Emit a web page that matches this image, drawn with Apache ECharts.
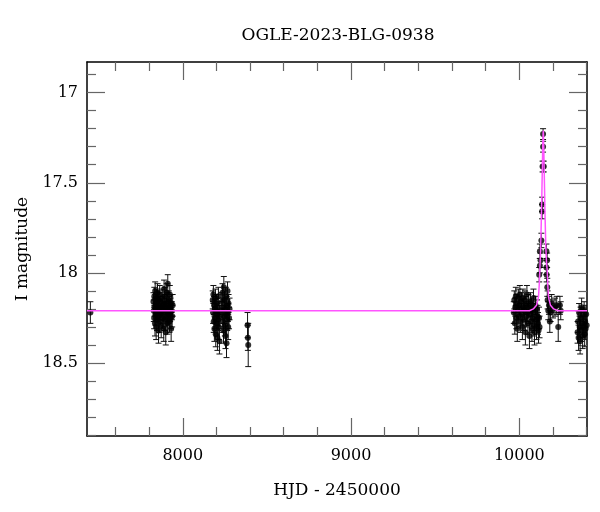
<!DOCTYPE html>
<html>
<head>
<meta charset="utf-8">
<script src="https://cdn.jsdelivr.net/npm/echarts@6/dist/echarts.min.js"></script>
<style>html,body{margin:0;padding:0;background:#fff}#c{width:600px;height:512px}</style>
</head>
<body>
<div id="c"></div>
<script>
// ---- data: [HJD-2450000, I mag, error] ----
const season2016 = [[7451,18.22,0.06]];
const season2017 = [
[7826,18.16,0.05],[7828,18.21,0.06],[7830,18.25,0.06],[7831,18.13,0.05],[7833,18.19,0.05],[7835,18.28,0.07],
[7836,18.10,0.05],[7838,18.23,0.06],[7840,18.17,0.05],[7842,18.30,0.07],[7843,18.20,0.05],[7845,18.14,0.05],
[7847,18.26,0.06],[7849,18.22,0.05],[7850,18.11,0.05],[7852,18.18,0.05],[7854,18.24,0.06],[7856,18.32,0.07],
[7857,18.15,0.05],[7859,18.21,0.05],[7861,18.27,0.06],[7863,18.12,0.05],[7865,18.19,0.05],[7867,18.23,0.06],
[7870,18.16,0.05],[7872,18.29,0.07],[7874,18.20,0.05],[7878,18.14,0.05],[7880,18.25,0.06],[7883,18.18,0.05],
[7885,18.22,0.06],[7887,18.31,0.07],[7889,18.09,0.05],[7891,18.17,0.05],[7893,18.26,0.06],[7895,18.13,0.05],
[7897,18.21,0.05],[7899,18.33,0.07],[7901,18.19,0.05],[7903,18.24,0.06],[7905,18.11,0.05],[7907,18.16,0.05],
[7909,18.28,0.06],[7911,18.06,0.05],[7913,18.20,0.05],[7915,18.23,0.06],[7917,18.15,0.05],[7919,18.18,0.05],
[7921,18.27,0.06],[7923,18.12,0.05],[7925,18.22,0.05],[7927,18.19,0.05],[7929,18.25,0.06],[7931,18.31,0.07],
[7933,18.17,0.05],[7935,18.21,0.05],[7937,18.24,0.06],[7940,18.18,0.06]
];
const season2018 = [
[8178,18.15,0.05],[8180,18.22,0.06],[8182,18.12,0.05],[8184,18.27,0.06],[8186,18.18,0.05],[8188,18.31,0.07],
[8190,18.20,0.05],[8192,18.25,0.06],[8194,18.14,0.05],[8196,18.34,0.07],[8198,18.21,0.05],[8200,18.17,0.05],
[8202,18.28,0.06],[8204,18.23,0.06],[8206,18.36,0.07],[8208,18.19,0.05],[8210,18.26,0.06],[8212,18.13,0.05],
[8214,18.30,0.07],[8216,18.22,0.06],[8218,18.38,0.07],[8220,18.24,0.06],
[8232,18.16,0.05],[8234,18.21,0.05],[8236,18.11,0.05],[8238,18.27,0.06],[8240,18.19,0.05],[8242,18.32,0.07],
[8244,18.08,0.06],[8246,18.24,0.06],[8248,18.15,0.05],[8250,18.29,0.06],[8252,18.20,0.05],[8254,18.35,0.07],
[8256,18.13,0.05],[8258,18.23,0.05],[8260,18.39,0.08],[8262,18.18,0.05],[8264,18.26,0.06],[8266,18.10,0.05],
[8268,18.22,0.05],[8270,18.30,0.07],[8272,18.17,0.05],[8275,18.25,0.06],[8278,18.20,0.06]
];
const season2018b = [[8385,18.29,0.07],[8387,18.36,0.07],[8389,18.40,0.12]];
const season2023 = [
[9967,18.22,0.06],[9970,18.15,0.05],[9973,18.28,0.06],[9976,18.19,0.05],[9979,18.13,0.05],[9982,18.25,0.06],
[9985,18.17,0.05],[9988,18.31,0.07],[9991,18.21,0.05],[9994,18.14,0.05],[9997,18.24,0.06],[10000,18.18,0.05],
[10003,18.12,0.05],[10006,18.27,0.06],[10009,18.20,0.05],[10012,18.16,0.05],[10015,18.23,0.06],[10018,18.30,0.07],
[10021,18.14,0.05],[10024,18.19,0.05],[10027,18.26,0.06],[10030,18.21,0.05],[10033,18.15,0.05],[10036,18.33,0.07],
[10039,18.18,0.05],[10042,18.24,0.06],[10045,18.12,0.05],[10048,18.22,0.05],[10051,18.28,0.06],[10054,18.17,0.05],
[10057,18.20,0.05],[10060,18.35,0.07],[10063,18.23,0.06],[10066,18.16,0.05],[10069,18.27,0.06],[10072,18.19,0.05],
[10075,18.31,0.07],[10078,18.21,0.05],[10081,18.25,0.06],[10084,18.14,0.05],[10087,18.29,0.06],[10090,18.33,0.07],
[10093,18.22,0.05],[10096,18.18,0.05],[10099,18.26,0.06],[10102,18.30,0.07],[10105,18.20,0.05],[10108,18.24,0.06],
[10111,18.28,0.06],[10114,18.32,0.07],[10117,18.25,0.06],[10120,18.30,0.06]
];
const peakPoints = [
[10118,18.01,0.04],[10122,17.88,0.04],[10122,17.96,0.04],[10126,17.93,0.04],[10131,17.82,0.04],[10135,17.62,0.04],
[10135,17.66,0.04],[10138,17.41,0.03],[10141,17.23,0.03],[10141,17.30,0.03],[10145,17.41,0.03],
[10161,17.88,0.04],[10161,17.97,0.04],[10162,18.01,0.04],[10165,17.93,0.04],[10166,18.08,0.05],[10168,18.15,0.05],
[10172,18.21,0.05],[10176,18.18,0.05],[10181,18.27,0.06],[10186,18.22,0.05],[10192,18.17,0.05],[10200,18.20,0.05],
[10212,18.19,0.05],[10222,18.18,0.05],[10231,18.30,0.08],[10241,18.18,0.05],[10246,18.21,0.05]
];
const season2024 = [
[10346,18.33,0.06],[10349,18.27,0.06],[10352,18.36,0.07],[10355,18.22,0.05],[10358,18.30,0.06],[10361,18.38,0.07],
[10364,18.25,0.06],[10367,18.32,0.06],[10370,18.19,0.05],[10373,18.28,0.06],[10376,18.35,0.07],[10379,18.24,0.05],
[10382,18.30,0.06],[10385,18.21,0.05],[10388,18.34,0.07],[10391,18.27,0.06],[10394,18.31,0.06],[10397,18.23,0.05],
[10400,18.29,0.06]
];
// model curve
const modelCurve = [
[7431,18.21],[10060,18.21],[10083,18.20],[10102,18.18],[10110,18.15],[10114,18.13],[10118,18.07],[10122,17.98],
[10127,17.85],[10132,17.65],[10136,17.45],[10139,17.30],[10141,17.23],[10142,17.21],[10143,17.23],[10145,17.30],
[10148,17.45],[10152,17.65],[10157,17.85],[10162,17.95],[10165,17.98],[10169,18.07],[10173,18.13],[10177,18.15],
[10185,18.18],[10204,18.20],[10230,18.21],[10402,18.21]
];
const xMajor = [8000, 9000, 10000];
const xMinor = [7600, 7800, 8200, 8400, 8600, 8800, 9200, 9400, 9600, 9800, 10200, 10400];
const yMajor = [17, 17.5, 18, 18.5];
const yMinor = [16.9, 17.1, 17.2, 17.3, 17.4, 17.6, 17.7, 17.8, 17.9, 18.1, 18.2, 18.3, 18.4, 18.6, 18.7, 18.8, 18.9];
const xRange = [7431, 10402];
const yRange = [16.83, 18.905];

const allPoints = [].concat(season2016, season2017, season2018, season2018b, season2023, peakPoints, season2024);

const FONT = 'DejaVu Serif';
const tickColor = '#666';

function xAx(pos, ticks, len, showLine, labels) {
  return {
    type: 'value', position: pos, min: xRange[0], max: xRange[1],
    axisLine: { show: showLine, onZero: false, lineStyle: { color: '#000', width: 1.5 } },
    axisTick: { show: true, inside: true, length: len, customValues: ticks, lineStyle: { color: tickColor, width: 1.2 } },
    axisLabel: labels ? { show: true, customValues: xMajor, margin: 12, color: '#000', fontFamily: FONT, fontSize: 16,
                          formatter: v => String(Math.round(v)) } : { show: false },
    splitLine: { show: false }
  };
}
function yAx(pos, ticks, len, showLine, labels) {
  return {
    type: 'value', position: pos, min: yRange[0], max: yRange[1], inverse: true,
    axisLine: { show: showLine, onZero: false, lineStyle: { color: '#000', width: 1.5 } },
    axisTick: { show: true, inside: true, length: len, customValues: ticks, lineStyle: { color: tickColor, width: 1.2 } },
    axisLabel: labels ? { show: true, customValues: yMajor, margin: 9, color: '#000', fontFamily: FONT, fontSize: 16,
                          formatter: v => String(v) } : { show: false },
    splitLine: { show: false }
  };
}

const xAxes = [xAx('bottom', xMajor, 18, true, true), xAx('bottom', xMinor, 9, false, false),
               xAx('top', xMajor, 18, true, false), xAx('top', xMinor, 9, false, false)];
xAxes[0].name = 'HJD - 2450000';
xAxes[0].nameLocation = 'middle';
xAxes[0].nameGap = 46;
xAxes[0].nameTextStyle = { fontFamily: FONT, fontSize: 17, color: '#000' };
const yAxes = [yAx('left', yMajor, 18, true, true), yAx('left', yMinor, 9, false, false),
               yAx('right', yMajor, 18, true, false), yAx('right', yMinor, 9, false, false)];
yAxes[0].name = 'I magnitude';
yAxes[0].nameLocation = 'middle';
yAxes[0].nameGap = 54;
yAxes[0].nameRotate = 90;
yAxes[0].nameTextStyle = { fontFamily: FONT, fontSize: 17, color: '#000' };

const chart = echarts.init(document.getElementById('c'), null, { renderer: 'canvas' });
chart.setOption({
  animation: false,
  backgroundColor: '#fff',
  graphic: [{ type: 'text', x: 338, y: 36, style: { text: 'OGLE-2023-BLG-0938', font: '17px "DejaVu Serif"', fill: '#000', textAlign: 'center', textVerticalAlign: 'middle' } }],
  grid: { left: 87, right: 13, top: 62, bottom: 76, containLabel: false },
  xAxis: xAxes,
  yAxis: yAxes,
  series: [
    {
      type: 'custom', xAxisIndex: 0, yAxisIndex: 0, clip: true, z: 2,
      data: allPoints,
      renderItem: function (params, api) {
        const t = api.value(0), m = api.value(1), e = api.value(2);
        const p1 = api.coord([t, m - e]);
        const p2 = api.coord([t, m + e]);
        const w = 3;
        const style = { stroke: '#111', lineWidth: 1 };
        return { type: 'group', children: [
          { type: 'line', shape: { x1: p1[0], y1: p1[1], x2: p2[0], y2: p2[1] }, style: style },
          { type: 'line', shape: { x1: p1[0] - w, y1: p1[1], x2: p1[0] + w, y2: p1[1] }, style: style },
          { type: 'line', shape: { x1: p2[0] - w, y1: p2[1], x2: p2[0] + w, y2: p2[1] }, style: style }
        ]};
      }
    },
    {
      type: 'scatter', xAxisIndex: 0, yAxisIndex: 0, z: 3, clip: true,
      data: allPoints.map(d => [d[0], d[1]]),
      symbol: 'circle', symbolSize: 6,
      itemStyle: { color: '#000' }
    },
    {
      type: 'line', xAxisIndex: 0, yAxisIndex: 0, z: 4, clip: true,
      data: modelCurve, showSymbol: false, symbol: 'none', smooth: false,
      lineStyle: { color: '#ff55ff', width: 1.5 }
    }
  ]
});
</script>
</body>
</html>
